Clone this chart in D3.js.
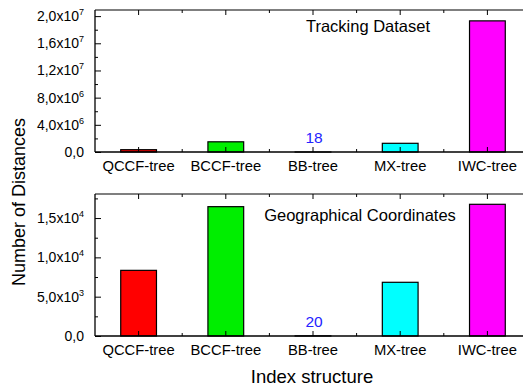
<!DOCTYPE html>
<html>
<head>
<meta charset="utf-8">
<script src="https://cdn.jsdelivr.net/npm/d3@7"></script>
<style>
  html, body { margin: 0; padding: 0; background: #fff; }
  svg { display: block; font-family: "Liberation Sans", Arial, sans-serif; }
</style>
</head>
<body>
<svg id="chart" width="523" height="387"></svg>
<script>
// Index structures compared in both panels
const categories = ["QCCF-tree", "BCCF-tree", "BB-tree", "MX-tree", "IWC-tree"];
const barColors = ["#ff0000", "#00ee00", "#2a2aff", "#00ffff", "#ff00ff"];

// Number of distance computations per structure
const trackingValues = [340000, 1500000, 18, 1280000, 19300000];
const geoValues = [8350, 16450, 20, 6830, 16750];

// Y tick values and their labels (mantissa, exponent)
const trackingTicks = [0, 4e6, 8e6, 1.2e7, 1.6e7, 2e7];
const trackingTickLabels = [["0,0", ""], ["4,0x10", "6"], ["8,0x10", "6"], ["1,2x10", "7"], ["1,6x10", "7"], ["2,0x10", "7"]];
const geoTicks = [0, 5000, 10000, 15000];
const geoTickLabels = [["0,0", ""], ["5,0x10", "3"], ["1,0x10", "4"], ["1,5x10", "4"]];

const panelTitles = ["Tracking Dataset", "Geographical Coordinates"];
const yTitle = "Number of Distances";
const xTitle = "Index structure";

const svg = d3.select("#chart");

const left = 95, right = 531;
const x = d3.scaleLinear().domain([0.5, categories.length + 0.5]).range([left, right]);
const barW = 0.41 * (x(2) - x(1));

const panels = [
  { top: 10, bottom: 152, max: 2.09e7, values: trackingValues, ticks: trackingTicks,
    labels: trackingTickLabels, minorStep: 2e6, title: panelTitles[0], titleX: 368, titleY: 32, labelIndex: 2 },
  { top: 194, bottom: 336, max: 18060, values: geoValues, ticks: geoTicks,
    labels: geoTickLabels, minorStep: 2500, title: panelTitles[1], titleX: 360, titleY: 221, labelIndex: 2 }
];

panels.forEach(p => {
  const y = d3.scaleLinear().domain([0, p.max]).range([p.bottom, p.top]);
  const g = svg.append("g");

  // bars
  g.selectAll("rect.bar").data(p.values).join("rect")
    .attr("class", "bar")
    .attr("x", (d, i) => x(i + 1) - barW / 2)
    .attr("y", d => y(d))
    .attr("width", barW)
    .attr("height", d => Math.max(0, y(0) - y(d)))
    .attr("fill", (d, i) => barColors[i])
    .attr("stroke", "#000")
    .attr("stroke-width", 1.2);

  // value label for the tiny bar
  g.append("text")
    .attr("x", x(p.labelIndex + 1) + 1)
    .attr("y", y(p.values[p.labelIndex]) - 9)
    .attr("text-anchor", "middle")
    .attr("fill", "#2323ff")
    .attr("font-size", 15.5)
    .text(p.values[p.labelIndex]);

  // frame
  g.append("line").attr("x1", left).attr("x2", right).attr("y1", p.top).attr("y2", p.top)
    .attr("stroke", "#555").attr("stroke-width", 1.5);
  g.append("line").attr("x1", left).attr("x2", right).attr("y1", p.bottom).attr("y2", p.bottom)
    .attr("stroke", "#000").attr("stroke-width", 1.3);
  g.append("line").attr("x1", left).attr("x2", left).attr("y1", p.top).attr("y2", p.bottom)
    .attr("stroke", "#000").attr("stroke-width", 1.3);

  // x ticks (inward) on bottom and top, majors at categories, minors between
  const majorsX = d3.range(1, categories.length + 1);
  const minorsX = d3.range(1.5, categories.length, 1);
  [[majorsX, 5], [minorsX, 3]].forEach(([vals, len]) => {
    vals.forEach(v => {
      g.append("line").attr("x1", x(v)).attr("x2", x(v)).attr("y1", p.bottom).attr("y2", p.bottom - len)
        .attr("stroke", "#000").attr("stroke-width", 1);
      g.append("line").attr("x1", x(v)).attr("x2", x(v)).attr("y1", p.top).attr("y2", p.top + len)
        .attr("stroke", "#000").attr("stroke-width", 1);
    });
  });

  // y axis: major ticks from tick values, minors halfway
  const yAxis = d3.axisLeft(y).tickValues(p.ticks).tickSizeInner(-6).tickSizeOuter(0).tickFormat("");
  const ya = g.append("g").attr("transform", `translate(${left},0)`).call(yAxis);
  ya.select(".domain").remove();
  ya.selectAll(".tick line").attr("stroke", "#000");
  const minors = d3.range(p.minorStep, p.max, p.minorStep * 2);
  const ym = d3.axisLeft(y).tickValues(minors).tickSizeInner(-3).tickSizeOuter(0).tickFormat("");
  const ymg = g.append("g").attr("transform", `translate(${left},0)`).call(ym);
  ymg.select(".domain").remove();
  ymg.selectAll(".tick line").attr("stroke", "#000");

  // y tick labels with superscript exponents
  p.ticks.forEach((t, i) => {
    const [mant, exp] = p.labels[i];
    const tx = g.append("text")
      .attr("x", left - 11)
      .attr("y", y(t) + 5)
      .attr("text-anchor", "end")
      .attr("font-size", 14)
      .attr("fill", "#000");
    tx.append("tspan").text(mant);
    if (exp) tx.append("tspan").attr("dy", -6).attr("font-size", 9).text(exp);
  });

  // category labels
  categories.forEach((c, i) => {
    g.append("text")
      .attr("x", x(i + 1))
      .attr("y", p.bottom + 19)
      .attr("text-anchor", "middle")
      .attr("font-size", 14.8)
      .attr("fill", "#000")
      .text(c);
  });

  // panel title
  g.append("text")
    .attr("x", p.titleX)
    .attr("y", p.titleY)
    .attr("text-anchor", "middle")
    .attr("font-size", 16.5)
    .attr("fill", "#000")
    .text(p.title);
});

// axis titles
svg.append("text")
  .attr("transform", "translate(25,202) rotate(-90)")
  .attr("text-anchor", "middle")
  .attr("font-size", 18)
  .attr("fill", "#000")
  .text(yTitle);

svg.append("text")
  .attr("x", 312)
  .attr("y", 383)
  .attr("text-anchor", "middle")
  .attr("font-size", 18.5)
  .attr("fill", "#000")
  .text(xTitle);
</script>
</body>
</html>
